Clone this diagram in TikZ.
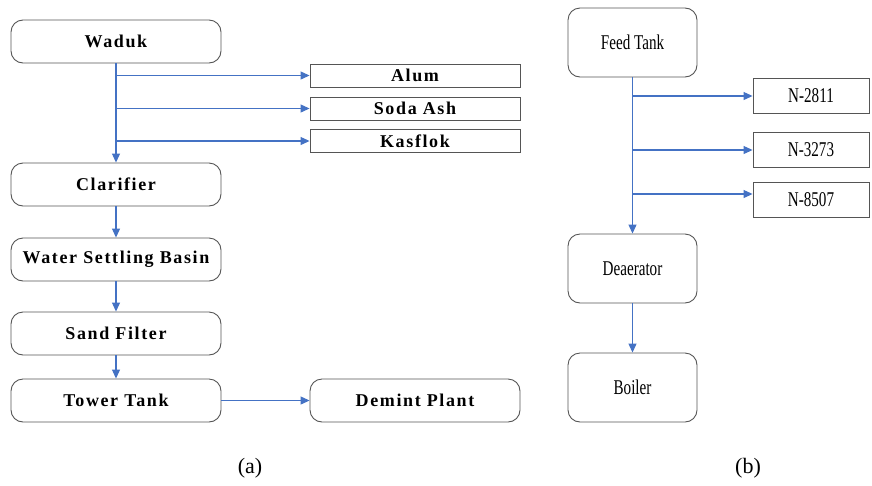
\documentclass[tikz,border=0pt]{standalone}
\usepackage{fontspec}
\setmainfont{Liberation Serif}
\newfontfamily\wideserif[LetterSpace=9]{Liberation Serif}
\newfontfamily\narrowserif[FakeStretch=0.72]{Liberation Serif}
\usetikzlibrary{arrows.meta}

\definecolor{flowblue}{RGB}{68,114,196}
\definecolor{boxgray}{RGB}{85,85,85}

\tikzset{
    unitbox/.style={draw=boxgray, line width=0.9pt, rounded corners=12pt,
        minimum width=210pt, minimum height=43pt, inner sep=0pt,
        font=\wideserif\bfseries\fontsize{18}{20}\selectfont},
    chembox/.style={draw=boxgray, line width=0.9pt,
        minimum width=210pt, minimum height=23pt, inner sep=0pt,
        font=\wideserif\bfseries\fontsize{18}{20}\selectfont},
    tankbox/.style={draw=boxgray, line width=0.9pt, rounded corners=12pt,
        minimum width=129pt, minimum height=69pt, inner sep=0pt,
        font=\narrowserif\fontsize{21}{23}\selectfont},
    codebox/.style={draw=boxgray, line width=0.9pt,
        minimum width=116pt, minimum height=35pt, inner sep=0pt,
        font=\narrowserif\fontsize{21}{23}\selectfont},
    flow/.style={flowblue, line width=1.1pt, -{Triangle[length=9pt, width=8pt]}}
}

\begin{document}
\begin{tikzpicture}[x=1pt, y=-1pt]
    \useasboundingbox (0, 0) rectangle (872, 485);

    % (a) water treatment
    \node[unitbox] (waduk) at (116, 41.5) {Waduk};
    \node[chembox] (alum) at (415, 75.5) {Alum};
    \node[chembox] (soda) at (415, 108.5) {Soda Ash};
    \node[chembox] (kasflok) at (415, 141) {Kasflok};
    \node[unitbox] (clarifier) at (116, 184.5) {Clarifier};
    \node[unitbox] (basin) at (116, 259.5) {Water Settling Basin};
    \node[unitbox] (sand) at (116, 333.5) {Sand Filter};
    \node[unitbox] (tower) at (116, 400.5) {Tower Tank};
    \node[unitbox] (demint) at (415, 400.5) {Demint Plant};

    \draw[flow] (waduk.south) -- (clarifier.north);
    \draw[flow] (waduk.south |- alum.west) -- (alum.west);
    \draw[flow] (waduk.south |- soda.west) -- (soda.west);
    \draw[flow] (waduk.south |- kasflok.west) -- (kasflok.west);
    \draw[flow] (clarifier) -- (basin);
    \draw[flow] (basin) -- (sand);
    \draw[flow] (sand) -- (tower);
    \draw[flow] (tower) -- (demint);

    % (b) boiler feed
    \node[tankbox] (feed) at (632.5, 42.5) {Feed Tank};
    \node[codebox] (n2811) at (811, 96) {N-2811};
    \node[codebox] (n3273) at (811, 150) {N-3273};
    \node[codebox] (n8507) at (811, 200) {N-8507};
    \node[tankbox] (deaerator) at (632.5, 268.5) {Deaerator};
    \node[tankbox] (boiler) at (632.5, 387.5) {Boiler};

    \draw[flow] (feed.south) -- (deaerator.north);
    \draw[flow] (feed.south |- n2811.west) -- (n2811.west);
    \draw[flow] (feed.south |- n3273.west) -- (n3273.west);
    \draw[flow] ([yshift=6pt]feed.south |- n8507.west) -- ([yshift=6pt]n8507.west);
    \draw[flow] (deaerator) -- (boiler);

    \node[font=\fontsize{22}{24}\selectfont] (capa) at (250, 468) {(a)};
    \node[font=\fontsize{22}{24}\selectfont] (capb) at (748, 468) {(b)};
\end{tikzpicture}
\end{document}
